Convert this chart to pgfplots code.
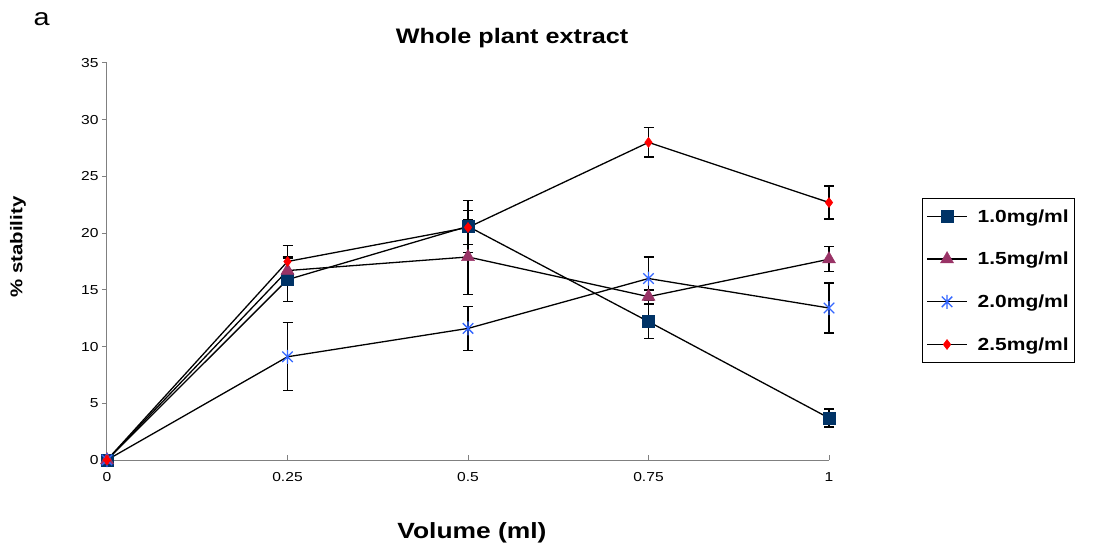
\documentclass[border=0pt]{standalone}
\usepackage{fontspec}
\setmainfont{Liberation Sans}[FakeStretch=1.2]
\usepackage{pgfplots}
\pgfplotsset{compat=1.18}
\definecolor{navy}{RGB}{0,51,102}
\definecolor{plum}{RGB}{153,51,102}
\definecolor{starblue}{RGB}{51,102,255}
\definecolor{axgray}{RGB}{128,128,128}
\pgfdeclareplotmark{xstar}{%
  \pgfpathmoveto{\pgfqpoint{-0.75\pgfplotmarksize}{-0.75\pgfplotmarksize}}%
  \pgfpathlineto{\pgfqpoint{0.75\pgfplotmarksize}{0.75\pgfplotmarksize}}%
  \pgfpathmoveto{\pgfqpoint{-0.75\pgfplotmarksize}{0.75\pgfplotmarksize}}%
  \pgfpathlineto{\pgfqpoint{0.75\pgfplotmarksize}{-0.75\pgfplotmarksize}}%
  \pgfpathmoveto{\pgfqpoint{0pt}{-\pgfplotmarksize}}%
  \pgfpathlineto{\pgfqpoint{0pt}{\pgfplotmarksize}}%
  \pgfusepathqstroke}
\begin{document}
\begin{tikzpicture}
\useasboundingbox (0,0) rectangle (1095pt,546pt);
\begin{axis}[
  at={(107pt,86pt)}, anchor=south west,
  scale only axis, width=722pt, height=397pt,
  xmin=0, xmax=1, ymin=0, ymax=35,
  clip=false,
  axis x line=bottom, axis y line=left,
  axis line style={-, axgray, line width=1pt},
  every tick/.style={axgray, line width=1pt},
  major tick length=5pt,
  xtick align=inside, ytick align=outside,
  xtick={0,0.25,0.5,0.75,1},
  xticklabels={0,0.25,0.5,0.75,1},
  ytick={0,5,10,15,20,25,30,35},
  /pgf/number format/assume math mode=true,
  tick label style={font=\fontsize{13}{15}\selectfont},
  xticklabel style={yshift=-9pt},
  title={\textbf{Whole plant extract}},
  title style={font=\fontsize{21}{25}\selectfont, anchor=base, at={(0.561,1)}, yshift=13pt},
  xlabel={\textbf{Volume (ml)}},
  xlabel style={font=\fontsize{22}{26}\selectfont, at={(0.5055,-0.1965)}, anchor=base},
  ylabel={\textbf{\% stability}},
  ylabel style={font=\fontsize{17}{20}\selectfont, at={(-0.1233,0.5365)}, anchor=center},
  legend style={at={(1.1288,0.660)}, anchor=north west, draw=black, line width=0.8pt,
    font=\fontsize{17.5}{20}\selectfont\bfseries, row sep=24.5pt, inner xsep=4pt, inner ysep=9pt,
    /tikz/every odd column/.append style={column sep=8pt}},
  legend cell align=left,
  legend image code/.code={\draw[mark repeat=2,mark phase=2,#1,line width=1.3pt] plot coordinates {(0pt,0pt) (20pt,0pt) (40pt,0pt)};},
  error bars/y dir=both, error bars/y explicit,
  error bars/error bar style={black, line width=1.3pt},
  error bars/error mark options={rotate=90, mark size=5pt, black, line width=1.3pt},
]
\addplot[black, line width=1.3pt, mark=square*, mark size=6pt, mark options={fill=navy, draw=navy, line width=0.5pt}]
  table[x=x, y=y, y error=e] {
  x y e
  0 0 0
  0.25 15.9 1.9
  0.5 20.6 2.3
  0.75 12.2 1.5
  1 3.7 0.8
  };
\addlegendentry{1.0mg/ml}
\addplot[black, line width=1.3pt, mark=triangle*, mark size=7.5pt, mark options={fill=plum, draw=plum, line width=0.5pt}]
  table[x=x, y=y, y error=e] {
  x y e
  0 0 0
  0.25 16.7 1.2
  0.5 17.9 3.3
  0.75 14.4 0.6
  1 17.7 1.1
  };
\addlegendentry{1.5mg/ml}
\addplot[black, line width=1.3pt, mark=xstar, mark size=7pt, mark options={draw=starblue, line width=1.3pt}]
  table[x=x, y=y, y error=e] {
  x y e
  0 0 0
  0.25 9.1 3.0
  0.5 11.6 1.95
  0.75 16.0 1.9
  1 13.4 2.2
  };
\addlegendentry{2.0mg/ml}
\addplot[black, line width=1.3pt, mark=diamond*, mark size=5pt, mark options={fill=red, draw=red, line width=0.5pt}]
  table[x=x, y=y, y error=e] {
  x y e
  0 0 0
  0.25 17.5 1.4
  0.5 20.5 1.5
  0.75 28.0 1.3
  1 22.7 1.45
  };
\addlegendentry{2.5mg/ml}
\node[anchor=base west, font=\fontsize{24}{28}\selectfont] at (axis description cs:-0.1066,1.0957) {a};
\end{axis}
\end{tikzpicture}
\end{document}
